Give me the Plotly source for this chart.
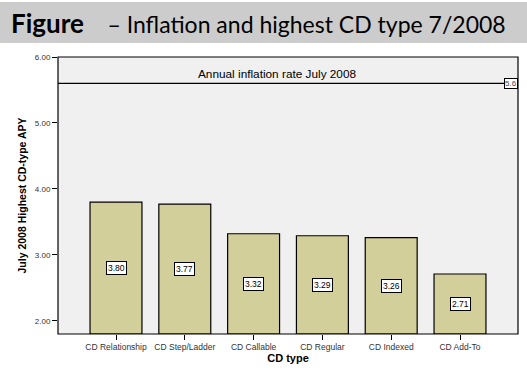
import plotly.graph_objects as go

categories = ["CD Relationship", "CD Step/Ladder", "CD Callable", "CD Regular", "CD Indexed", "CD Add-To"]
apy_values = [3.80, 3.77, 3.32, 3.29, 3.26, 2.71]
inflation_rate = 5.6
inflation_label = "Annual inflation rate July 2008"
y_ticks = [2.0, 3.0, 4.0, 5.0, 6.0]
y_min, y_max = 1.8, 6.0

FONT = "Liberation Sans, Arial, sans-serif"
L, R, T, B = 58, 9, 57, 34
PW, PH = 527 - L - R, 368 - T - B

fig = go.Figure()
fig.add_trace(go.Bar(
    x=categories, y=[v - y_min for v in apy_values], base=y_min,
    marker=dict(color="#d3cf9b", line=dict(color="black", width=1.2)),
    width=0.755, hoverinfo="skip", showlegend=False,
))

annotations = []
for c, v in zip(categories, apy_values):
    annotations.append(dict(
        x=c, y=(y_min + v) / 2, xref="x", yref="y", text=f"{v:.2f}", showarrow=False,
        font=dict(family=FONT, size=8.5, color="black"), bgcolor="white",
        bordercolor="black", borderwidth=1, borderpad=1,
    ))
annotations.append(dict(
    x=(277 - L) / PW, y=inflation_rate, xref="paper", yref="y", text=inflation_label, showarrow=False,
    yanchor="bottom", yshift=0, font=dict(family=FONT, size=11.8, color="black"),
))
annotations.append(dict(
    x=1.0, y=inflation_rate, xref="paper", yref="y", text=f"{inflation_rate:.1f}", showarrow=False,
    xanchor="right", font=dict(family=FONT, size=8, color="#444"), bgcolor="white",
    bordercolor="black", borderwidth=1, borderpad=0,
))
annotations.append(dict(
    x=(9 - L) / PW, y=1 + (T - 23) / PH, xref="paper", yref="paper",
    text="<b><span style='font-size:26px'>Figure</span></b>    – Inflation and highest CD type 7/2008",
    showarrow=False,
    xanchor="left", yanchor="middle", font=dict(family="Lato, sans-serif", size=23, color="black"),
))

shapes = [
    dict(type="rect", xref="paper", yref="paper", x0=-L / PW, x1=1 + R / PW,
         y0=1 + (T - 43) / PH, y1=1 + (T - 2) / PH, fillcolor="#cccccc", line=dict(width=0), layer="below"),
    dict(type="line", xref="paper", yref="y", x0=0, x1=1, y0=inflation_rate, y1=inflation_rate,
         line=dict(color="black", width=1.2)),
    dict(type="rect", xref="paper", yref="paper", x0=0, x1=1, y0=0, y1=1,
         line=dict(color="black", width=1.2)),
]

fig.update_layout(
    width=527, height=368,
    margin=dict(l=L, r=R, t=T, b=B, autoexpand=False),
    paper_bgcolor="white", plot_bgcolor="#f0f0f0",
    annotations=annotations, shapes=shapes,
    xaxis=dict(
        range=[-0.843, 5.843], showgrid=False, zeroline=False, automargin=False,
        ticks="outside", ticklen=5, tickcolor="black", tickwidth=1,
        tickfont=dict(family=FONT, size=8.5, color="#333"),
        title=dict(text="<b>CD type</b>", font=dict(family=FONT, size=11, color="black"), standoff=3),
        showline=False,
    ),
    yaxis=dict(
        range=[y_min, y_max], tickvals=y_ticks, ticktext=[f"{t:.2f}" for t in y_ticks],
        showgrid=False, zeroline=False, automargin=False, ticks="outside", ticklen=5, tickcolor="black", tickwidth=1,
        tickfont=dict(family=FONT, size=8, color="#333"),
        title=dict(text="<b>July 2008 Highest CD-type APY</b>", font=dict(family=FONT, size=10.5, color="black"), standoff=6),
        showline=False,
    ),
)

fig.write_html("out.html", config={"displayModeBar": False},
               post_script="document.body.style.margin='0px';document.body.style.overflow='hidden';")
